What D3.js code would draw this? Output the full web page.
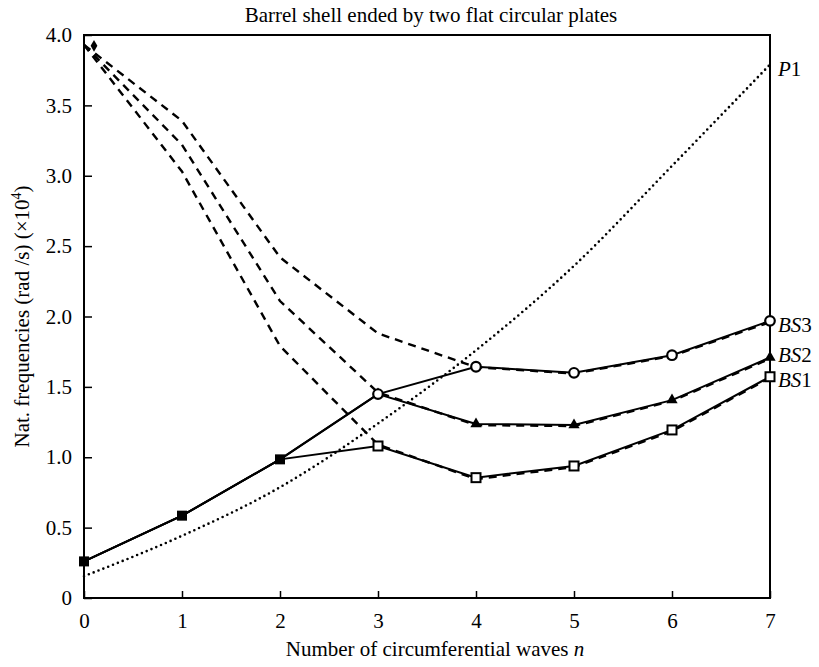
<!DOCTYPE html>
<html>
<head>
<meta charset="utf-8">
<script src="https://cdn.jsdelivr.net/npm/d3@7"></script>
<style>
  body { margin: 0; background: #fff; }
  svg text { font-family: "Liberation Serif", "Times New Roman", serif; fill: #000; }
</style>
</head>
<body>
<div class="canvas"></div>
<script>
// circumferential wave number
const waves = [0, 1, 2, 3, 4, 5, 6, 7];

// solid curves (with markers)
const bs1 = [0.26, 0.585, 0.985, 1.08, 0.855, 0.938, 1.194, 1.572];
const bs2 = [0.26, 0.585, 0.985, 1.449, 1.236, 1.229, 1.406, 1.709];
const bs3 = [0.26, 0.585, 0.985, 1.449, 1.643, 1.60, 1.725, 1.969];

// dashed curves
const dash1 = [3.93, 3.03, 1.79, 1.09, 0.845, 0.93, 1.185, 1.565];
const dash2 = [3.93, 3.22, 2.11, 1.46, 1.228, 1.222, 1.40, 1.70];
const dash3 = [3.93, 3.39, 2.42, 1.88, 1.64, 1.595, 1.72, 1.96];

// plate curve (dotted)
const p1 = [0.155, 0.442, 0.787, 1.24, 1.76, 2.36, 3.07, 3.79];

const yTicks = [0, 0.5, 1.0, 1.5, 2.0, 2.5, 3.0, 3.5, 4.0];

const width = 819, height = 667;
const margin = { top: 35, right: 49, bottom: 69, left: 84 };

const svg = d3.select('.canvas')
  .append('svg')
  .attr('width', width)
  .attr('height', height);

const x = d3.scaleLinear().domain([0, 7]).range([margin.left, width - margin.right]);
const y = d3.scaleLinear().domain([0, 4]).range([height - margin.bottom, margin.top]);

// axes, ticks pointing inwards
const xAxis = d3.axisBottom(x)
  .tickValues(waves)
  .tickSizeInner(-7)
  .tickSizeOuter(0)
  .tickPadding(15)
  .tickFormat(d3.format('d'));

const yAxis = d3.axisLeft(y)
  .tickValues(yTicks)
  .tickSizeInner(-8)
  .tickSizeOuter(0)
  .tickPadding(12)
  .tickFormat(d => d === 0 ? '0' : d3.format('.1f')(d));

const xAxisGroup = svg.append('g')
  .attr('transform', `translate(0, ${y(0)})`)
  .call(xAxis);

const yAxisGroup = svg.append('g')
  .attr('transform', `translate(${x(0)}, 0)`)
  .call(yAxis);

[xAxisGroup, yAxisGroup].forEach(g => {
  g.select('.domain').remove();
  g.selectAll('line').attr('stroke', '#000').attr('stroke-width', 1.5);
  g.selectAll('text').style('font-size', '21px').attr('fill', '#000');
});

// frame
svg.append('rect')
  .attr('x', x(0))
  .attr('y', y(4))
  .attr('width', x(7) - x(0))
  .attr('height', y(0) - y(4))
  .attr('fill', 'none')
  .attr('stroke', '#000')
  .attr('stroke-width', 2);

const line = d3.line()
  .x((d, i) => x(waves[i]))
  .y(d => y(d));

const smooth = d3.line()
  .curve(d3.curveMonotoneX)
  .x((d, i) => x(waves[i]))
  .y(d => y(d));

// dashed curves
[dash1, dash2, dash3].forEach(s => {
  svg.append('path')
    .attr('d', line(s))
    .attr('fill', 'none')
    .attr('stroke', '#000')
    .attr('stroke-width', 2.4)
    .attr('stroke-dasharray', '8,6');
});

svg.append('path')
  .attr('d', d3.symbol().type(d3.symbolDiamond).size(40)())
  .attr('transform', `translate(${x(0) + 10}, ${y(dash1[0]) + 1})`)
  .attr('fill', '#000');

// dotted P1
svg.append('path')
  .attr('d', smooth(p1))
  .attr('fill', 'none')
  .attr('stroke', '#000')
  .attr('stroke-width', 2.6)
  .attr('stroke-linecap', 'round')
  .attr('stroke-dasharray', '0,5.2');

// solid curves
[bs1, bs2, bs3].forEach(s => {
  svg.append('path')
    .attr('d', line(s))
    .attr('fill', 'none')
    .attr('stroke', '#000')
    .attr('stroke-width', 2);
});

// markers
const common = waves.filter(n => n <= 2);
svg.selectAll('.common')
  .data(common)
  .enter()
  .append('rect')
    .attr('x', n => x(n) - 5)
    .attr('y', n => y(bs1[n]) - 5)
    .attr('width', 10)
    .attr('height', 10)
    .attr('fill', '#000');

const later = waves.filter(n => n >= 3);

svg.selectAll('.bs2m')
  .data(later)
  .enter()
  .append('path')
    .attr('d', d3.symbol().type(d3.symbolTriangle).size(55)())
    .attr('transform', n => `translate(${x(n)}, ${y(bs2[n])})`)
    .attr('fill', '#000');

svg.selectAll('.bs1m')
  .data(later)
  .enter()
  .append('rect')
    .attr('x', n => x(n) - 4.5)
    .attr('y', n => y(bs1[n]) - 4.5)
    .attr('width', 9)
    .attr('height', 9)
    .attr('fill', '#fff')
    .attr('stroke', '#000')
    .attr('stroke-width', 2);

svg.selectAll('.bs3m')
  .data(later)
  .enter()
  .append('circle')
    .attr('cx', n => x(n))
    .attr('cy', n => y(bs3[n]))
    .attr('r', 4.8)
    .attr('fill', '#fff')
    .attr('stroke', '#000')
    .attr('stroke-width', 2.2);

// curve labels
const labels = [
  { name: 'P', num: '1', v: p1[7], dy: 11 },
  { name: 'BS', num: '3', v: bs3[7], dy: 11 },
  { name: 'BS', num: '2', v: bs2[7], dy: 5 },
  { name: 'BS', num: '1', v: bs1[7], dy: 10 }
];
labels.forEach(l => {
  const t = svg.append('text')
    .attr('x', x(7) + 8)
    .attr('y', y(l.v) + l.dy)
    .style('font-size', '21px');
  t.append('tspan').style('font-style', 'italic').text(l.name);
  t.append('tspan').text(l.num);
});

// title
svg.append('text')
  .attr('x', 431)
  .attr('y', 22)
  .attr('text-anchor', 'middle')
  .style('font-size', '21px')
  .text('Barrel shell ended by two flat circular plates');

// x label
const xl = svg.append('text')
  .attr('x', 435)
  .attr('y', 656)
  .attr('text-anchor', 'middle')
  .style('font-size', '21px');
xl.append('tspan').text('Number of circumferential waves ');
xl.append('tspan').style('font-style', 'italic').text('n');

// y label
const yl = svg.append('text')
  .attr('transform', `translate(29, ${(y(0) + y(4)) / 2}) rotate(-90)`)
  .attr('text-anchor', 'middle')
  .style('font-size', '21px');
yl.append('tspan').text('Nat. frequencies (rad /s) (\u00d710');
yl.append('tspan').attr('dy', -8).style('font-size', '14px').text('4');
yl.append('tspan').attr('dy', 8).text(')');
</script>
</body>
</html>
